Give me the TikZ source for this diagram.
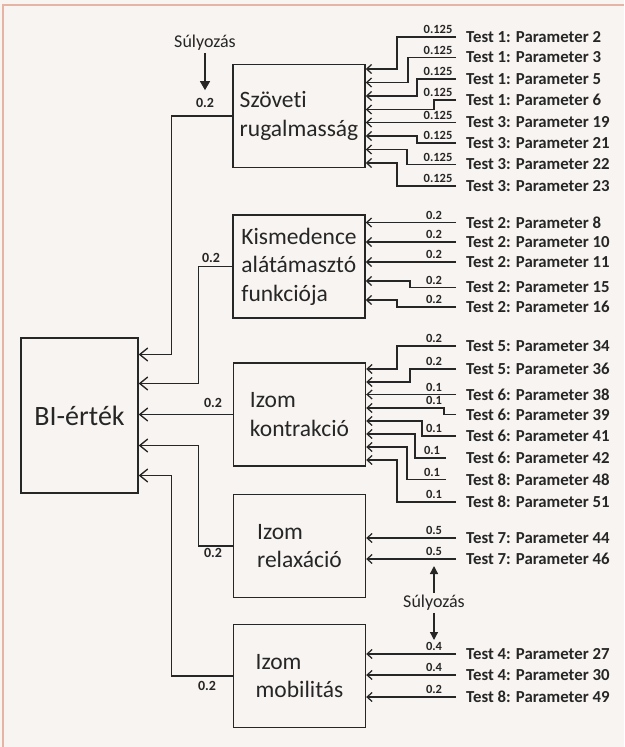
\documentclass[tikz,border=0pt]{standalone}
\usepackage{fontspec}
\setmainfont{Carlito}[Ligatures=NoCommon]
\usetikzlibrary{arrows.meta, positioning, calc}
\definecolor{ink}{HTML}{262626}
\definecolor{paper}{HTML}{F8F4F1}
\definecolor{frame}{HTML}{E6B4A4}

\begin{document}
\begin{tikzpicture}[x=1pt, y=-1pt, every node/.style={text=ink},
    box/.style={draw=ink, line width=1.4pt, minimum width=132pt, minimum height=103pt,
        inner sep=0pt, align=left, font=\fontsize{23.5}{28.5}\selectfont},
    param/.style={anchor=west, inner sep=0pt, font=\bfseries\fontsize{16.8}{18}\selectfont},
    wlab/.style={anchor=south, inner sep=0pt, xshift=-22pt, yshift=2.5pt,
        font=\bfseries\fontsize{12.5}{13}\selectfont},
    wbig/.style={inner sep=0pt, font=\bfseries\fontsize{14}{15}\selectfont},
    suly/.style={inner sep=2pt, font=\fontsize{18}{20}\selectfont},
    inarrow/.style={draw=ink, line width=1.25pt, -{Straight Barb[length=5pt,width=9pt]}},
    toarrow/.style={draw=ink, line width=1.35pt, -{Straight Barb[length=8pt,width=13pt]}},
    wgt/.style={draw=ink, line width=1.3pt, -{Triangle[length=9pt,width=10pt]}}]

    % háttér és keret
    \fill[paper] (0,0) rectangle (624,747);
    \useasboundingbox (0,0) rectangle (624,747);
    \draw[frame, line width=2pt] (3,747) -- (3,5) -- (624,5);

    % dobozok
    \node[box, minimum width=117pt, minimum height=155pt, font=\fontsize{28}{32}\selectfont] (bi) at (79.5,415.5) {BI-érték};
    \node[box] (szov) at (299,116) {Szöveti\\rugalmasság};
    \node[box] (kism) at (299,266.5) {Kismedence\\alátámasztó\\funkciója};
    \node[box] (kontr) at (299.5,414.5) {Izom\\kontrakció};
    \node[box] (relax) at (299.5,546) {Izom\\relaxáció};
    \node[box] (mobil) at (299.5,676) {Izom\\mobilitás};

    % bal oldali súlyok
    \node[wbig] (wszov) at (205,103) {0.2};
    \node[wbig] (wkism) at (211,258) {0.2};
    \node[wbig] (wkontr) at (213,403) {0.2};
    \node[wbig] (wrelax) at (213,553) {0.2};
    \node[wbig] (wmobil) at (207,686) {0.2};

    \draw[toarrow] (szov.west) -- ++(-61,0) |- ([yshift=61pt]bi.east);
    \draw[toarrow] (kism.west) -- ++(-34,0) |- ([yshift=32pt]bi.east);
    \draw[toarrow] (kontr.west) -- (kontr.west -| bi.east);
    \draw[toarrow] (relax.west) -- ++(-34,0) |- ([yshift=-30pt]bi.east);
    \draw[toarrow] (mobil.west) -- ++(-61,0) |- ([yshift=-60pt]bi.east);

    % Súlyozás
    \node[suly] (suly1) at (205,43) {Súlyozás};
    \draw[wgt] (suly1.south) -- ([yshift=8pt]wszov.north);
    \node[suly] (suly2) at (434,603) {Súlyozás};
    \coordinate (sup) at (434,566);
    \coordinate (sdn) at (434,640);
    \draw[wgt, -{Triangle[length=8pt,width=8pt]}] (suly2.north) -- (sup);
    \draw[wgt, -{Triangle[length=8pt,width=8pt]}] (suly2.south) -- (sdn);

    % Szöveti rugalmasság
    \node[param] (p2) at (466,37) {Test 1: Parameter 2};
    \node[param] (p3) at (466,57.5) {Test 1: Parameter 3};
    \node[param] (p5) at (466,79) {Test 1: Parameter 5};
    \node[param] (p6) at (466,100) {Test 1: Parameter 6};
    \node[param] (p19) at (466,122.5) {Test 3: Parameter 19};
    \node[param] (p21) at (466,143) {Test 3: Parameter 21};
    \node[param] (p22) at (466,164.5) {Test 3: Parameter 22};
    \node[param] (p23) at (466,186) {Test 3: Parameter 23};
    \draw[inarrow] ([xshift=-10pt]p2.west) node[wlab, xshift=4pt] (w2) {0.125} -| (397,69) -- (szov.east |- 0,69);
    \draw[inarrow] ([xshift=-10pt]p3.west) node[wlab, xshift=4pt] (w3) {0.125} -| (408,82.5) -- (szov.east |- 0,82.5);
    \draw[inarrow] ([xshift=-10pt]p5.west) node[wlab, xshift=4pt] (w5) {0.125} -| (417,96) -- (szov.east |- 0,96);
    \draw[inarrow] ([xshift=-10pt]p6.west) node[wlab, xshift=4pt] (w6) {0.125} -| (434,109.5) -- (szov.east |- 0,109.5);
    \draw[inarrow] ([xshift=-10pt]p19.west) node[wlab, xshift=4pt] (w19) {0.125} -- (szov.east |- 0,122.5);
    \draw[inarrow] ([xshift=-10pt]p21.west) node[wlab, xshift=4pt] (w21) {0.125} -| (417,136) -- (szov.east |- 0,136);
    \draw[inarrow] ([xshift=-10pt]p22.west) node[wlab, xshift=4pt] (w22) {0.125} -| (407,149.5) -- (szov.east |- 0,149.5);
    \draw[inarrow] ([xshift=-10pt]p23.west) node[wlab, xshift=4pt] (w23) {0.125} -| (397,163) -- (szov.east |- 0,163);

    % Kismedence alátámasztó funkciója
    \node[param] (p8) at (466,222.5) {Test 2: Parameter 8};
    \node[param] (p10) at (466,242) {Test 2: Parameter 10};
    \node[param] (p11) at (466,262) {Test 2: Parameter 11};
    \node[param] (p15) at (466,287.5) {Test 2: Parameter 15};
    \node[param] (p16) at (466,307) {Test 2: Parameter 16};
    \draw[inarrow] ([xshift=-10pt]p8.west) node[wlab] (w8) {0.2} -- (kism.east |- 0,222.5);
    \draw[inarrow] ([xshift=-10pt]p10.west) node[wlab] (w10) {0.2} -- (kism.east |- 0,242);
    \draw[inarrow] ([xshift=-10pt]p11.west) node[wlab] (w11) {0.2} -- (kism.east |- 0,262);
    \draw[inarrow] ([xshift=-10pt]p15.west) node[wlab] (w15) {0.2} -| (410,281) -- (kism.east |- 0,281);
    \draw[inarrow] ([xshift=-10pt]p16.west) node[wlab] (w16) {0.2} -| (397,300) -- (kism.east |- 0,300);

    % Izom kontrakció
    \node[param] (p34) at (466,346) {Test 5: Parameter 34};
    \node[param] (p36) at (466,369) {Test 5: Parameter 36};
    \node[param] (p38) at (466,394.5) {Test 6: Parameter 38};
    \node[param] (p39) at (466,414.5) {Test 6: Parameter 39};
    \node[param] (p41) at (466,436) {Test 6: Parameter 41};
    \node[param] (p42) at (466,458) {Test 6: Parameter 42};
    \node[param] (p48) at (466,479.5) {Test 8: Parameter 48};
    \node[param] (p51) at (466,502) {Test 8: Parameter 51};
    \draw[inarrow] ([xshift=-10pt]p34.west) node[wlab] (w34) {0.2} -| (397,369) -- (kontr.east |- 0,369);
    \draw[inarrow] ([xshift=-10pt]p36.west) node[wlab] (w36) {0.2} -| (410,382) -- (kontr.east |- 0,382);
    \draw[inarrow] ([xshift=-10pt]p38.west) node[wlab] (w38) {0.1} -- (kontr.east |- 0,394.5);
    \draw[inarrow] ([xshift=-10pt]p39.west) node[wlab, yshift=6.5pt] (w39) {0.1} -| (444,408) -- (kontr.east |- 0,408);
    \draw[inarrow] ([xshift=-10pt]p41.west) node[wlab] (w41) {0.1} -| (422,421) -- (kontr.east |- 0,421);
    \draw[inarrow] ([xshift=-20pt]p42.west) node[wlab, xshift=8pt] (w42) {0.1} -| (415,434) -- (kontr.east |- 0,434);
    \draw[inarrow] ([xshift=-20pt]p48.west) node[wlab, xshift=8pt] (w48) {0.1} -| (407,447) -- (kontr.east |- 0,447);
    \draw[inarrow] ([xshift=-10pt]p51.west) node[wlab] (w51) {0.1} -| (397,460) -- (kontr.east |- 0,460);

    % Izom relaxáció
    \node[param] (p44) at (466,538) {Test 7: Parameter 44};
    \node[param] (p46) at (466,559) {Test 7: Parameter 46};
    \draw[inarrow] ([xshift=-10pt]p44.west) node[wlab] (w44) {0.5} -- (relax.east |- 0,538);
    \draw[inarrow] ([xshift=-10pt]p46.west) node[wlab] (w46) {0.5} -- (relax.east |- 0,559);

    % Izom mobilitás
    \node[param] (p27) at (466,654) {Test 4: Parameter 27};
    \node[param] (p30) at (466,675) {Test 4: Parameter 30};
    \node[param] (p49) at (466,697) {Test 8: Parameter 49};
    \draw[inarrow] ([xshift=-10pt]p27.west) node[wlab] (w27) {0.4} -- (mobil.east |- 0,654);
    \draw[inarrow] ([xshift=-10pt]p30.west) node[wlab] (w30) {0.4} -- (mobil.east |- 0,675);
    \draw[inarrow] ([xshift=-10pt]p49.west) node[wlab] (w49) {0.2} -- (mobil.east |- 0,697);
\end{tikzpicture}
\end{document}
